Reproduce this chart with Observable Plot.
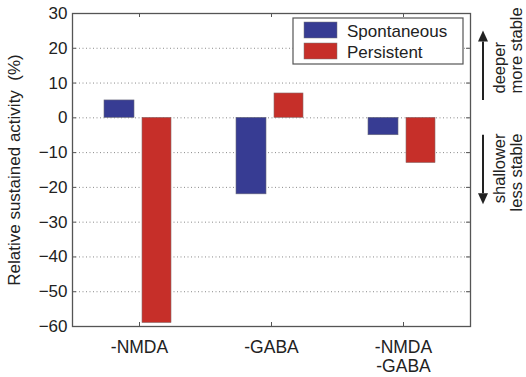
<!DOCTYPE html>
<html>
<head>
<meta charset="utf-8">
<script src="https://cdn.jsdelivr.net/npm/d3@7"></script>
<script src="https://cdn.jsdelivr.net/npm/@observablehq/plot@0.6"></script>
<style>
  html, body { margin: 0; padding: 0; background: #fff; }
  #chart { width: 526px; height: 377px; }
</style>
</head>
<body>
<div id="chart"></div>
<script>
// Conditions (x categories) and the two measured series (% change)
const categories = ["-NMDA", "-GABA", "-NMDA\n-GABA"];
const spontaneous = [5, -22, -5];
const persistent = [-59, 7, -13];
const seriesNames = ["Spontaneous", "Persistent"];
const seriesColors = ["#373c93", "#c62f29"];
const yTicks = [-60, -50, -40, -30, -20, -10, 0, 10, 20, 30];

// Side annotations: direction labels and arrow spans (in y units)
const upLabels = ["deeper", "more stable"];
const downLabels = ["shallower", "less stable"];
const upSpan = [5, 25];
const downSpan = [-5, -25];

const font = "'Liberation Sans', Arial, Helvetica, sans-serif";
const W = 526, H = 377;
const margin = {top: 13, right: 56, bottom: 51, left: 72};
const innerW = W - margin.left - margin.right;
const innerH = H - margin.top - margin.bottom;

const spontRows = categories.map((c, i) => ({cond: c, value: spontaneous[i]}));
const persRows = categories.map((c, i) => ({cond: c, value: persistent[i]}));

const frameColor = "#555";
const ink = "#222";

const chart = Plot.plot({
  width: W,
  height: H,
  marginTop: margin.top,
  marginRight: margin.right,
  marginBottom: margin.bottom,
  marginLeft: margin.left,
  style: {fontFamily: font, fontSize: "17px", background: "#fff", color: ink},
  x: {type: "band", domain: categories, padding: 0},
  y: {domain: [-60, 30]},
  marks: [
    // dotted horizontal grid
    Plot.gridY(yTicks.filter(t => t > -60 && t < 30), {stroke: "#8a8a8a", strokeOpacity: 1, strokeDasharray: "1,2.5", strokeWidth: 1}),
    // bars: spontaneous on the left of each group, persistent on the right
    Plot.barY(spontRows, {x: "cond", y: "value", fill: seriesColors[0], stroke: "#6a6a7a", strokeWidth: 0.6, insetLeft: 31, insetRight: 71}),
    Plot.barY(persRows, {x: "cond", y: "value", fill: seriesColors[1], stroke: "#8a6a6a", strokeWidth: 0.6, insetLeft: 69, insetRight: 34}),
    // inward ticks on all four sides
    Plot.tickX(categories, {x: d => d, insetTop: innerH - 4, stroke: frameColor}),
    Plot.tickX(categories, {x: d => d, insetBottom: innerH - 4, stroke: frameColor}),
    Plot.tickY(yTicks, {y: d => d, insetLeft: innerW - 4, stroke: frameColor}),
    Plot.tickY(yTicks, {y: d => d, insetRight: innerW - 4, stroke: frameColor}),
    Plot.frame({stroke: frameColor, strokeWidth: 1.3}),
    Plot.axisY(yTicks, {
      tickSize: 0, tickPadding: 5, fontSize: 17,
      label: "Relative sustained activity  (%)", labelAnchor: "center", labelArrow: "none", labelOffset: 65
    }),
    Plot.axisX({tickSize: 0, tickPadding: 13, fontSize: 17.5, lineHeight: 1.1, label: null}),
    // direction annotations in the right margin
    Plot.text([upLabels[0]], {text: d => d, y: () => upSpan[0] + 2, frameAnchor: "right", dx: 29, rotate: -90, textAnchor: "start", fontSize: 16.5, fill: ink}),
    Plot.text([upLabels[1]], {text: d => d, y: () => upSpan[0] + 2, frameAnchor: "right", dx: 46, rotate: -90, textAnchor: "start", fontSize: 16.5, fill: ink}),
    Plot.text([downLabels[0]], {text: d => d, y: () => downSpan[0] + 0.5, frameAnchor: "right", dx: 29, rotate: -90, textAnchor: "end", fontSize: 16.5, fill: ink}),
    Plot.text([downLabels[1]], {text: d => d, y: () => downSpan[0] + 0.5, frameAnchor: "right", dx: 46, rotate: -90, textAnchor: "end", fontSize: 16.5, fill: ink})
  ]
});

// Arrows beside the plot, positioned with the chart's y scale
const ys = chart.scale("y");
const svg = d3.select(chart);
const ax = W - margin.right + 13;
const ann = svg.append("g").attr("fill", ink).attr("stroke", ink);
for (const [from, to] of [upSpan, downSpan]) {
  const y0 = ys.apply(from), y1 = ys.apply(to);
  const dir = Math.sign(y1 - y0);
  const head = 11;
  ann.append("line").attr("x1", ax).attr("x2", ax).attr("y1", y0).attr("y2", y1 - dir * head).attr("stroke-width", 2);
  ann.append("path").attr("stroke", "none")
    .attr("d", `M${ax - 5},${y1 - dir * head}L${ax + 5},${y1 - dir * head}L${ax},${y1}Z`);
}

// Legend box inside the upper right of the plot
const lg = svg.append("g").attr("font-family", font).attr("font-size", 17).attr("text-anchor", "start");
lg.append("rect").attr("x", 293).attr("y", 18).attr("width", 170).attr("height", 46)
  .attr("fill", "#fff").attr("stroke", frameColor).attr("stroke-width", 1.2);
seriesNames.forEach((name, i) => {
  const top = 22 + i * 21;
  lg.append("rect").attr("x", 304).attr("y", top).attr("width", 33).attr("height", 16)
    .attr("fill", seriesColors[i]).attr("stroke", "#777").attr("stroke-width", 0.5);
  lg.append("text").attr("x", 347).attr("y", top + 15).attr("fill", ink).attr("text-anchor", "start").text(name);
});

document.getElementById("chart").appendChild(chart);
</script>
</body>
</html>
